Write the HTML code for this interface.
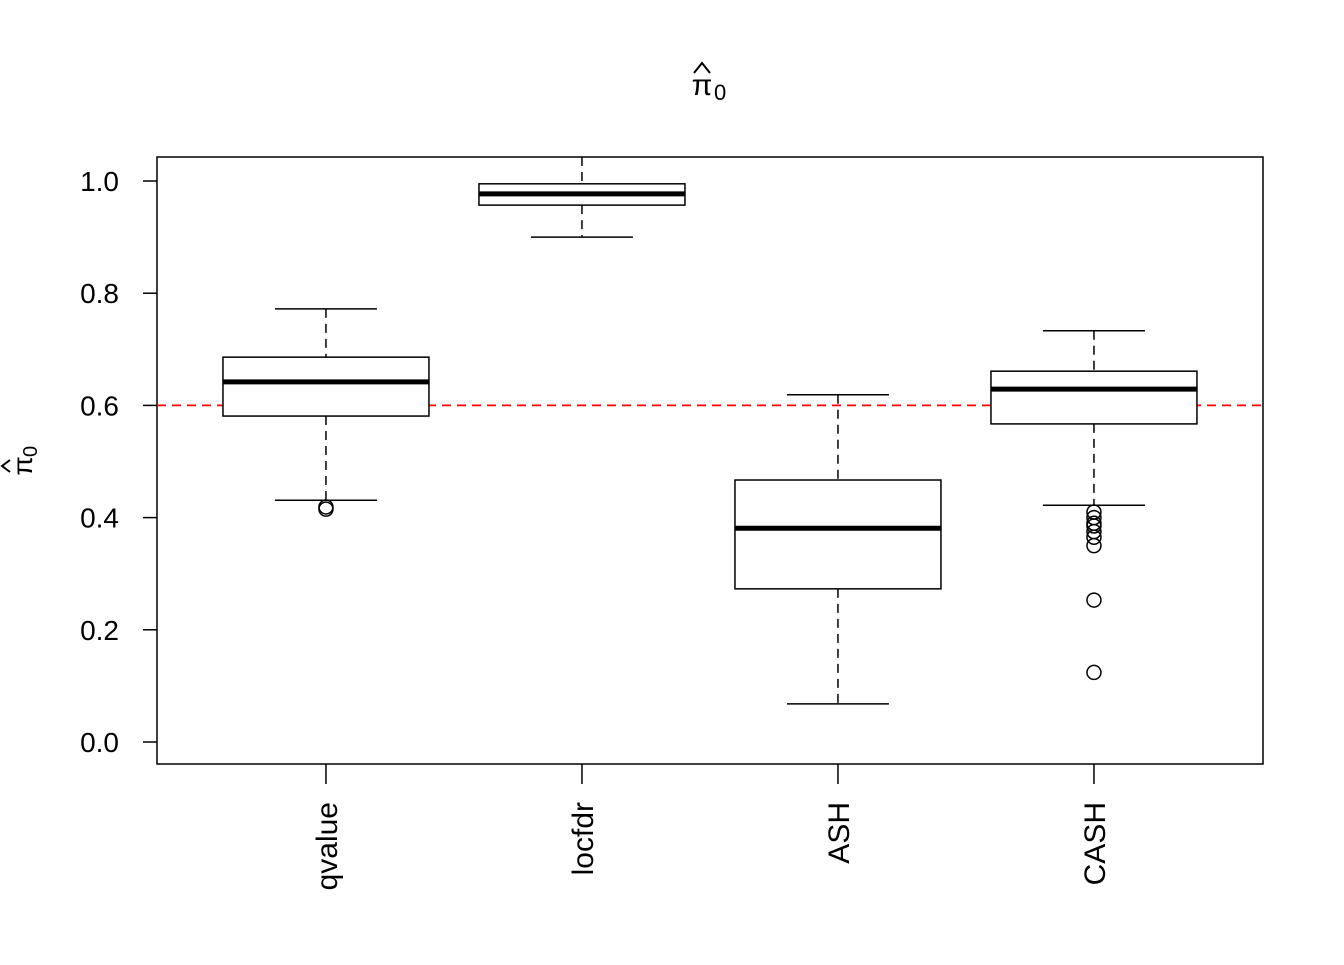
<!DOCTYPE html>
<html><head><meta charset="utf-8"><style>
body{margin:0;background:#fff;}
text{font-family:"Liberation Sans",Arial,sans-serif;fill:#000;}
</style></head><body>
<svg id="chart" width="1344" height="960" xmlns="http://www.w3.org/2000/svg">
<g id="g"></g>
</svg>
<script>
const categories=["qvalue","locfdr","ASH","CASH"];
const whiskerHigh=[0.772,1.06,0.619,0.733];
const boxHigh=[0.686,0.995,0.467,0.661];
const medians=[0.642,0.977,0.381,0.629];
const boxLow=[0.581,0.957,0.273,0.567];
const whiskerLow=[0.431,0.900,0.068,0.422];
const outliers=[[0.419,0.415],[],[],[0.41,0.40,0.39,0.385,0.375,0.365,0.35,0.253,0.124]];
const yTicks=[0,0.2,0.4,0.6,0.8,1.0];
const yTickLabels=["0.0","0.2","0.4","0.6","0.8","1.0"];
const refLine=0.6;

const L=157,R=1263,T=157,B=764;
const y=v=>742-v*561;
const x=i=>L+(i+1-0.34)*256;
const NS="http://www.w3.org/2000/svg";
const g=document.getElementById('g');
function mk(tag,attrs,name,txt){const e=document.createElementNS(NS,tag);for(const k in attrs)e.setAttribute(k,attrs[k]);


if(txt!==undefined)e.textContent=txt;g.appendChild(e);return e;}

mk('rect',{x:L,y:T,width:R-L,height:B-T,fill:'none',stroke:'#000','stroke-width':1.5},'plot-frame');
yTicks.forEach((t,k)=>{
 mk('line',{x1:L-14,x2:L,y1:y(t),y2:y(t),stroke:'#000','stroke-width':1.5},'y-tick');
 mk('text',{x:L-38,y:y(t)+10,'font-size':28,'text-anchor':'end'},'y-tick-label',yTickLabels[k]);
});
mk('line',{x1:L,x2:R,y1:y(refLine),y2:y(refLine),stroke:'#f00','stroke-width':1.8,'stroke-dasharray':'9,6'},'reference-line');
categories.forEach((c,i)=>{
 const cx=x(i),hw=103,cw=51;
 const wt=Math.max(y(whiskerHigh[i]),T);
 mk('line',{x1:cx,x2:cx,y1:wt,y2:y(boxHigh[i]),stroke:'#000','stroke-width':1.5,'stroke-dasharray':'9,6'},'whisker-upper-'+c);
 mk('line',{x1:cx,x2:cx,y1:y(boxLow[i]),y2:y(whiskerLow[i]),stroke:'#000','stroke-width':1.5,'stroke-dasharray':'9,6'},'whisker-lower-'+c);
 if(y(whiskerHigh[i])>=T) mk('line',{x1:cx-cw,x2:cx+cw,y1:y(whiskerHigh[i]),y2:y(whiskerHigh[i]),stroke:'#000','stroke-width':1.5},'whisker-cap-'+c);
 mk('line',{x1:cx-cw,x2:cx+cw,y1:y(whiskerLow[i]),y2:y(whiskerLow[i]),stroke:'#000','stroke-width':1.5},'whisker-cap-'+c);
 mk('rect',{x:cx-hw,y:y(boxHigh[i]),width:2*hw,height:y(boxLow[i])-y(boxHigh[i]),fill:'#fff',stroke:'#000','stroke-width':1.5},'box-'+c);
 mk('line',{x1:cx-hw,x2:cx+hw,y1:y(medians[i]),y2:y(medians[i]),stroke:'#000','stroke-width':5},'median-'+c);
 outliers[i].forEach(o=>mk('circle',{cx:cx,cy:y(o),r:7,fill:'none',stroke:'#000','stroke-width':1.5},'outlier-'+c));
 mk('line',{x1:cx,x2:cx,y1:B,y2:B+20,stroke:'#000','stroke-width':1.5},'x-tick');
 mk('text',{x:0,y:0,'font-size':30,'text-anchor':'end',transform:`translate(${cx+11},${B+38}) rotate(-90)`},'x-tick-label-'+c,c);
});
mk('text',{x:702,y:95,'font-size':30,'text-anchor':'middle'},'chart-title','π');
mk('path',{d:'M694,73 L702,63 L710,73',fill:'none',stroke:'#000','stroke-width':2},'title-hat');
mk('text',{x:714,y:100,'font-size':22},'chart-title-subscript','0');
const yl=document.createElementNS(NS,'g');yl.setAttribute('transform','translate(32,460) rotate(-90)');


yl.innerHTML='<text x="-6" y="0" font-size="28" text-anchor="middle">π</text><path d="M-12,-22 L-6,-30 L0,-22" fill="none" stroke="#000" stroke-width="2"/><text x="3" y="5" font-size="20">0</text>';
g.appendChild(yl);
</script>
</body></html>
